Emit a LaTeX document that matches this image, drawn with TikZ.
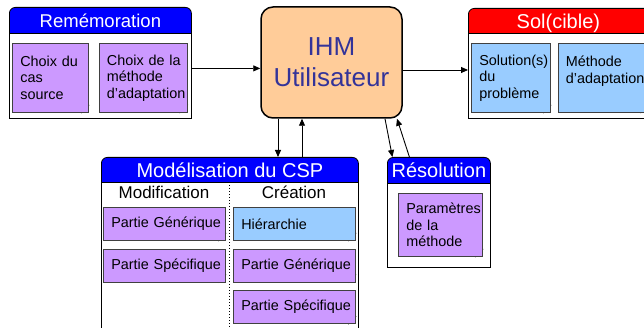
\documentclass[tikz,border=0pt]{standalone}
\usepackage{fontspec}
\setmainfont{Liberation Sans}
\usetikzlibrary{positioning, arrows.meta}
\definecolor{notepurple}{HTML}{CC99FF}
\definecolor{noteblue}{HTML}{99CCFF}
\definecolor{ihmfill}{HTML}{FFCC99}
\definecolor{ihmtext}{HTML}{333399}
\newcommand\notefont{\fontsize{14.4}{16.5}\selectfont\hyphenpenalty=10000\lefthyphenmin=64 }
\newcommand\hdrfont{\fontsize{20}{24}\selectfont}
\tikzset{
	hdr/.style={
		rectangle, draw, line width=0.8pt, rounded corners=6pt,
		anchor=north west, inner sep=0pt,
		minimum height=32pt, text height=14.3pt, text depth=6pt,
		text=white, font=\hdrfont,
	},
	panelbody/.style={
		rectangle, draw, fill=white, line width=0.8pt,
		anchor=north west, inner sep=0pt,
	},
	sticky/.style={
		rectangle, draw=black!75, fill=#1, line width=0.6pt,
		anchor=north west, inner xsep=8pt, inner ysep=0pt,
		align=left, font=\notefont,
		append after command={\pgfextra{
			\fill[white] ([xshift=-7pt]\tikzlastnode.south east)
				-- ([shift={(1pt,-1pt)}]\tikzlastnode.south east)
				-- ([yshift=7pt]\tikzlastnode.south east) -- cycle;
			\filldraw[draw=black!75, fill=#1!45!white, line width=0.6pt]
				([xshift=-7pt]\tikzlastnode.south east)
				-- ([yshift=7pt]\tikzlastnode.south east)
				-- ([shift={(-6pt,5pt)}]\tikzlastnode.south east) -- cycle;
		}},
	},
	sticky/.default=notepurple,
	link/.style={
		draw, line width=0.9pt, -{Triangle[length=7pt,width=6pt]},
	},
}
\begin{document}
\begin{tikzpicture}[x=1pt, y=1pt, node distance=8pt]
\useasboundingbox (0,0) rectangle (644,328);
\clip (0,0) rectangle (644,328);

% panels
\node [hdr, fill=blue, minimum width=182pt, font=\fontsize{18.5}{22}\selectfont] (remhead) at (9,321) {Remémoration};
\node [panelbody, minimum width=182pt, minimum height=85pt] (rembody) at (9,295) {};
\node [hdr, fill=red, minimum width=200pt, minimum height=31pt] (solhead) at (468,320) {\hspace*{-20pt}Sol(cible)};
\node [panelbody, minimum width=200pt, minimum height=85pt] (solbody) at (468,295) {};
\node [hdr, fill=blue, minimum width=257pt, minimum height=31pt] (modhead) at (101,171) {Modélisation du CSP};
\node [panelbody, minimum width=257pt, minimum height=160pt] (modbody) at (101,146) {};
\node [hdr, fill=blue, minimum width=103pt] (reshead) at (387,171) {Résolution};
\node [panelbody, minimum width=103pt, minimum height=84pt] (resbody) at (387,145) {};

\node [rectangle, draw, line width=1.5pt, rounded corners=12pt, fill=ihmfill,
	text=ihmtext, minimum width=141pt, minimum height=111pt, align=center,
	font=\fontsize{26}{31}\selectfont] (ihm) at (331.5,265.5) {IHM\\Utilisateur};

% notes
\node [sticky, text width=60pt, minimum height=69pt] (remA) at (12,285) {Choix~du\\cas\\source};
\node [sticky, text width=72pt, minimum height=69pt, right=10pt of remA] (remB) {Choix~de~la\\méthode\\d’adaptation};
\node [sticky=noteblue, text width=63pt, minimum height=69pt] (solA) at (471,285) {Solution(s)\\du\\problème};
\node [sticky=noteblue, text width=74pt, minimum height=69pt, right=7pt of solA] (solB) {Méthode\\d’adaptation\\\mbox{}};
\node [sticky, text width=68pt, minimum height=63pt] (resA) at (398,135) {Paramètres\\de~la\\méthode};

\node [font=\fontsize{17}{20}\selectfont] (modif) at (164,136) {Modification};
\node [font=\fontsize{17}{20}\selectfont] (creat) at (294,136) {Création};
\draw [dotted, line width=1pt] (modbody.north) -- (modbody.south);

\node [sticky, text width=106pt, minimum height=33pt] (modA) at (103,121) {Partie~Générique};
\node [sticky, text width=106pt, minimum height=33pt, below=of modA] (modB) {Partie~Spécifique};
\node [sticky=noteblue, text width=106pt, minimum height=33pt] (creA) at (233,121) {Hiérarchie};
\node [sticky, text width=106pt, minimum height=33pt, below=of creA] (creB) {Partie~Générique};
\node [sticky, text width=106pt, minimum height=33pt, below=of creB] (creC) {Partie~Spécifique};

% connectors
\path [link] ([yshift=7.5pt]rembody.east) -- ([yshift=7.5pt]rembody.east -| ihm.west);
\path [link] ([yshift=-7.5pt]ihm.east) -- ([yshift=-7.5pt]ihm.east -| solbody.west);
\path [link] ([xshift=-53.5pt]ihm.south) -- ([xshift=-53.5pt]ihm.south |- modhead.north);
\path [link] ([xshift=-29.5pt]ihm.south |- modhead.north) -- ([xshift=-29.5pt]ihm.south);
\path [link] ([xshift=53.5pt]ihm.south) -- ([xshift=-46.5pt]reshead.north);
\path [link] ([xshift=-29.5pt]reshead.north) -- ([xshift=65.5pt]ihm.south);
\end{tikzpicture}
\end{document}
